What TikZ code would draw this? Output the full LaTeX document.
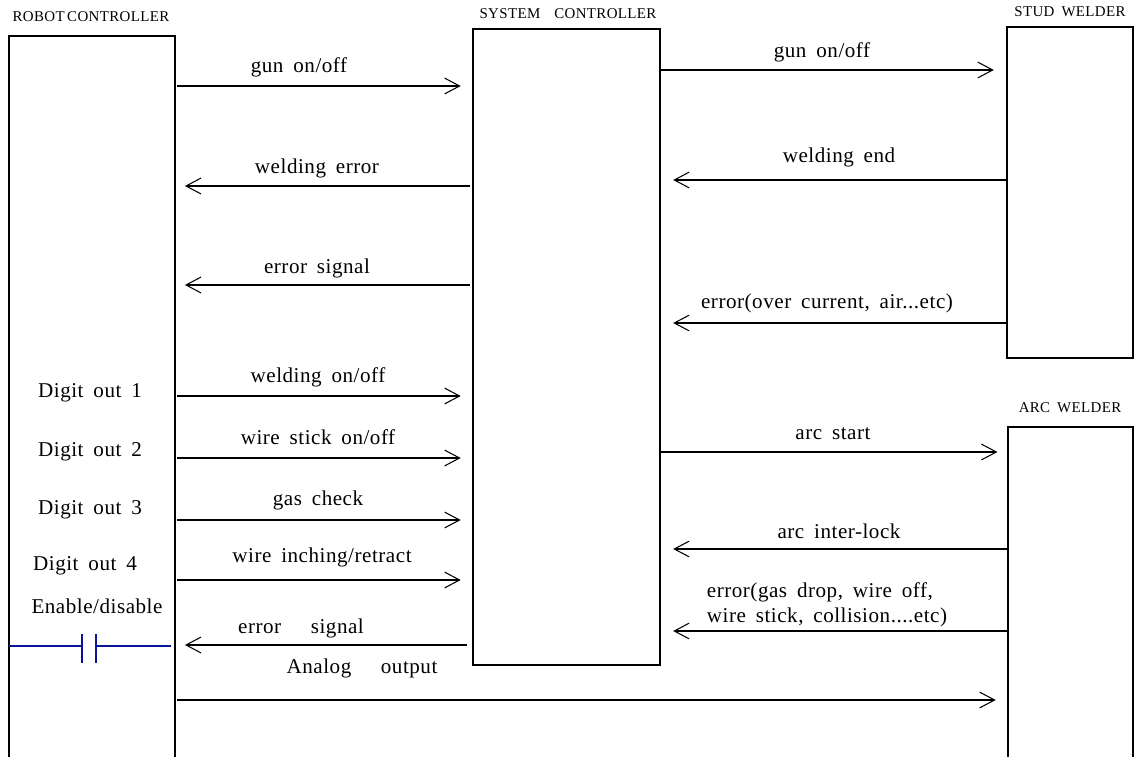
\documentclass[tikz,border=0pt]{standalone}
\usepackage{fontspec}
\setmainfont{Liberation Serif}[LetterSpace=2.5,WordSpace=1.7]
\usetikzlibrary{arrows.meta}
\definecolor{contact}{RGB}{10,20,150}

\begin{document}
\begin{tikzpicture}[x=0.02cm, y=-0.02cm,
    sig/.style={line width=0.6pt, -{Straight Barb[length=8.5pt,width=9pt]}},
    box/.style={line width=0.9pt},
    lbl/.style={font=\fontsize{12}{14}\selectfont},
    title/.style={font=\fontsize{8.5}{10}\selectfont}]
  \useasboundingbox (0,0) rectangle (1136,757);

  % the four units (robot and arc welder run off the bottom)
  \draw [box] (9,757) -- (9,36) -- (175,36) -- (175,757);
  \draw [box] (473,29) rectangle (660,665);
  \draw [box] (1007,27) rectangle (1133,358);
  \draw [box] (1008,757) -- (1008,427) -- (1133,427) -- (1133,757);
  \coordinate (rc) at (177,36);
  \coordinate (scL) at (473,29);
  \coordinate (scR) at (660,29);
  \coordinate (sw) at (1007,27);
  \coordinate (aw) at (1008,427);

  \node [title] (rctitle) at (91,17) {ROBOT\,CONTROLLER};
  \node [title] (sctitle) at (568,14) {SYSTEM\ \ CONTROLLER};
  \node [title] (swtitle) at (1070,12) {STUD WELDER};
  \node [title] (awtitle) at (1070,408) {ARC WELDER};

  % robot <-> system controller
  \draw [sig, shorten >=7pt] (rc |- 0,86) -- (scL |- 0,86);
  \draw [sig, shorten <=1.5pt, shorten >=4.5pt] (scL |- 0,186) -- (rc |- 0,186);
  \draw [sig, shorten <=1.5pt, shorten >=4.5pt] (scL |- 0,285) -- (rc |- 0,285);
  \draw [sig, shorten >=7pt] (rc |- 0,396) -- (scL |- 0,396);
  \draw [sig, shorten >=7pt] (rc |- 0,458) -- (scL |- 0,458);
  \draw [sig, shorten >=7pt] (rc |- 0,520) -- (scL |- 0,520);
  \draw [sig, shorten >=7pt] (rc |- 0,580) -- (scL |- 0,580);
  \draw [sig, shorten <=3.5pt, shorten >=4.5pt] (scL |- 0,645) -- (rc |- 0,645);
  \draw [sig, shorten >=7pt] (rc |- 0,700) -- (aw |- 0,700);

  \node [lbl] (l1) at (299,67) {gun on/off};
  \node [lbl] (l2) at (317,168) {welding error};
  \node [lbl] (l3) at (317,268) {error signal};
  \node [lbl] (l4) at (318,377) {welding on/off};
  \node [lbl] (l5) at (318,437) {wire stick on/off};
  \node [lbl] (l6) at (318,500) {gas check};
  \node [lbl] (l7) at (322,557) {wire inching/retract};
  \node [lbl] (l8) at (301,628) {error\ \ \ signal};
  \node [lbl] (l9) at (362,668) {Analog\ \ \ output};

  % system controller <-> welders
  \draw [sig, shorten >=7.5pt] (scR |- 0,70) -- (sw |- 0,70);
  \draw [sig, shorten >=7.5pt] (sw |- 0,180) -- (scR |- 0,180);
  \draw [sig, shorten >=7.5pt] (sw |- 0,323) -- (scR |- 0,323);
  \draw [sig, shorten >=6pt] (scR |- 0,452) -- (aw |- 0,452);
  \draw [sig, shorten >=7.5pt] (aw |- 0,549) -- (scR |- 0,549);
  \draw [sig, shorten >=7.5pt] (aw |- 0,631) -- (scR |- 0,631);

  \node [lbl] (r1) at (822,52) {gun on/off};
  \node [lbl] (r2) at (839,157) {welding end};
  \node [lbl] (r3) at (827,303) {error(over current, air...etc)};
  \node [lbl] (r4) at (833,434) {arc start};
  \node [lbl] (r5) at (839,531) {arc inter-lock};
  \node [lbl, align=left, inner sep=1pt] (r6) at (827,605) {error(gas drop, wire off,\\wire stick, collision....etc)};

  % digital outputs
  \node [lbl] (d1) at (90,393) {Digit out 1};
  \node [lbl] (d2) at (90,452) {Digit out 2};
  \node [lbl] (d3) at (90,510) {Digit out 3};
  \node [lbl] (d4) at (85,566) {Digit out 4};
  \node [lbl] (en) at (97,606) {Enable/disable};

  % contact symbol
  \draw [contact, line width=0.7pt] (9,646) -- (82,646) (82,634) -- (82,663);
  \draw [contact, line width=0.7pt] (96,634) -- (96,663) (96,646) -- (171,646);
\end{tikzpicture}
\end{document}
